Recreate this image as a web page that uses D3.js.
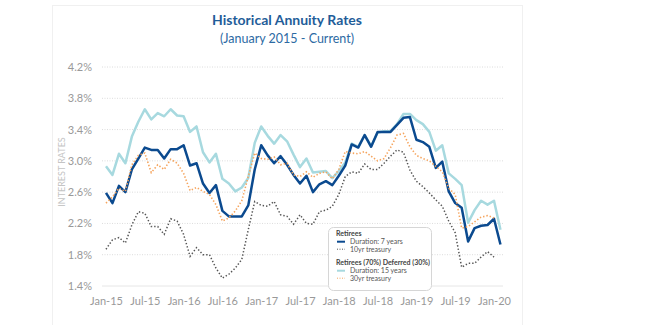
<!DOCTYPE html>
<html>
<head>
<meta charset="utf-8">
<script src="https://cdn.jsdelivr.net/npm/d3@7"></script>
<style>
  body { margin: 0; background: #fff; }
  svg { display: block; font-family: Lato, "Noto Sans", sans-serif; }
</style>
</head>
<body>
<script>
// monthly series, Jan-15 onward
var dur7 = [2.59,2.46,2.68,2.60,2.89,3.03,3.17,3.14,3.14,3.03,3.15,3.15,
            3.20,2.94,2.97,2.71,2.59,2.69,2.36,2.29,2.29,2.29,2.43,2.89,
            3.20,3.07,2.97,3.06,2.95,2.82,2.71,2.81,2.60,2.70,2.74,2.69,
            2.81,2.94,3.21,3.17,3.33,3.18,3.37,3.37,3.37,3.46,3.55,3.56,
            3.27,3.24,3.18,2.91,2.99,2.61,2.46,2.40,1.97,2.14,2.17,2.18,
            2.26,1.93];
var dur15 = [2.93,2.82,3.09,2.97,3.31,3.50,3.66,3.53,3.61,3.57,3.66,3.58,
             3.57,3.37,3.44,3.11,2.98,3.09,2.77,2.71,2.61,2.66,2.78,3.23,
             3.44,3.32,3.22,3.33,3.25,3.08,2.92,3.03,2.85,2.86,2.87,2.78,
             2.87,2.98,3.22,3.18,3.33,3.19,3.36,3.38,3.38,3.47,3.60,3.60,
             3.52,3.47,3.37,3.13,3.20,2.84,2.77,2.69,2.21,2.37,2.49,2.44,
             2.49,2.12];
var t30 = [2.46,2.54,2.65,2.61,2.95,3.07,3.10,2.85,2.95,2.89,3.02,2.97,
           2.84,2.62,2.66,2.61,2.57,2.44,2.23,2.27,2.36,2.49,2.80,3.10,
           3.03,3.02,3.05,2.95,2.97,2.82,2.80,2.86,2.79,2.84,2.86,2.77,
           2.89,3.12,3.10,3.09,3.12,3.06,3.00,3.03,3.17,3.33,3.35,3.18,
           3.07,3.03,3.00,2.93,2.86,2.65,2.57,2.14,2.16,2.22,2.28,2.30,
           2.27];
var t10 = [1.87,1.99,2.02,1.95,2.18,2.35,2.33,2.16,2.16,2.06,2.26,2.23,
           2.06,1.78,1.89,1.80,1.80,1.63,1.50,1.55,1.63,1.74,2.12,2.48,
           2.43,2.42,2.48,2.31,2.29,2.19,2.31,2.20,2.19,2.35,2.37,2.42,
           2.57,2.80,2.86,2.84,2.96,2.89,2.89,2.97,3.06,3.14,3.11,2.88,
           2.74,2.67,2.59,2.50,2.42,2.23,2.08,1.64,1.69,1.69,1.77,1.84,
           1.77];
var xLabels = ["Jan-15","Jul-15","Jan-16","Jul-16","Jan-17","Jul-17",
               "Jan-18","Jul-18","Jan-19","Jul-19","Jan-20"];
var yTicks = [1.4,1.8,2.2,2.6,3.0,3.4,3.8,4.2];

var W = 650, H = 325;
var svg = d3.select("body").append("svg").attr("width", W).attr("height", H);

// faint frame of the embedded picture
svg.append("rect").attr("x", 52.5).attr("y", 5.5).attr("width", 470).attr("height", 330)
    .attr("fill", "none").attr("stroke", "#f0f0f0");

var x = d3.scaleLinear().domain([0, 60]).range([106, 494]);
var y = d3.scaleLinear().domain([1.4, 4.2]).range([286, 67]);

// title
svg.append("text").attr("x", 287).attr("y", 25).attr("text-anchor", "middle")
    .attr("font-size", 14).attr("font-weight", "bold").attr("fill", "#1f5d99")
    .text("Historical Annuity Rates");
svg.append("text").attr("x", 287).attr("y", 43).attr("text-anchor", "middle")
    .attr("font-size", 12.5).attr("fill", "#2d6aa3")
    .text("(January 2015 - Current)");

// grid
svg.append("g").selectAll("line").data(yTicks.slice(1)).enter().append("line")
    .attr("x1", 102).attr("x2", 503)
    .attr("y1", function(d) { return y(d); }).attr("y2", function(d) { return y(d); })
    .attr("stroke", "#dcdcdc").attr("stroke-dasharray", "1,1.5");
svg.append("line").attr("x1", 102).attr("x2", 503).attr("y1", y(1.4)).attr("y2", y(1.4))
    .attr("stroke", "#e6e6e6");

// y axis labels
var yAxis = d3.axisLeft(y).tickValues(yTicks).tickSize(0).tickPadding(0)
    .tickFormat(function(d) { return d.toFixed(1) + "%"; });
var gy = svg.append("g").attr("transform", "translate(92,0)").call(yAxis);
gy.select(".domain").remove();
gy.selectAll("text").attr("font-size", 11).attr("fill", "#999").attr("font-family", "Lato, sans-serif");

svg.append("text").attr("transform", "translate(65,172) rotate(-90)")
    .attr("text-anchor", "middle").attr("font-size", 9).attr("fill", "#c4c4c4")
    .text("INTEREST RATES");

// x axis labels
var xAxis = d3.axisBottom(x).tickValues(d3.range(0, 61, 6)).tickSize(0).tickPadding(0)
    .tickFormat(function(d, i) { return xLabels[i]; });
var gx = svg.append("g").attr("transform", "translate(0,297)").call(xAxis);
gx.select(".domain").remove();
gx.selectAll("text").attr("font-size", 11).attr("fill", "#999").attr("font-family", "Lato, sans-serif");

// lines
var line = d3.line().x(function(d, i) { return x(i); }).y(function(d) { return y(d); });

svg.append("path").datum(dur15).attr("d", line).attr("fill", "none")
    .attr("stroke", "#a7d9df").attr("stroke-width", 2.5).attr("stroke-linejoin", "round");
svg.append("path").datum(dur7).attr("d", line).attr("fill", "none")
    .attr("stroke", "#0b4a8f").attr("stroke-width", 2.5).attr("stroke-linejoin", "round");
svg.append("path").datum(t30).attr("d", line).attr("fill", "none")
    .attr("stroke", "#f5a45d").attr("stroke-width", 1.6).attr("stroke-dasharray", "1.4,2");
svg.append("path").datum(t10).attr("d", line).attr("fill", "none")
    .attr("stroke", "#555").attr("stroke-width", 1.5).attr("stroke-dasharray", "1.4,2");

// legend
var lg = svg.append("g").attr("transform", "translate(328,227)");
lg.append("rect").attr("x", 0.5).attr("y", 0.5).attr("width", 103).attr("height", 63)
    .attr("rx", 5).attr("fill", "#fff").attr("stroke", "#d6d6d6");
var items = [
  {t: "Retirees", bold: true, y: 9},
  {t: "Duration: 7 years", y: 17, c: "#0b4a8f", w: 2, dash: null},
  {t: "10yr treasury", y: 24.5, c: "#555", w: 1, dash: "1,1.5"},
  {t: "Retirees (70%) Deferred (30%)", bold: true, y: 38},
  {t: "Duration: 15 years", y: 46, c: "#a7d9df", w: 2, dash: null},
  {t: "30yr treasury", y: 53.5, c: "#f5a45d", w: 1, dash: "1,1.5"}
];
items.forEach(function(it) {
  if (it.bold) {
    lg.append("text").attr("x", 8).attr("y", it.y).attr("font-size", 7)
      .attr("font-weight", "bold").attr("fill", "#444").text(it.t);
  } else {
    lg.append("line").attr("x1", 9).attr("x2", 17).attr("y1", it.y - 2.3).attr("y2", it.y - 2.3)
      .attr("stroke", it.c).attr("stroke-width", it.w).attr("stroke-dasharray", it.dash);
    lg.append("text").attr("x", 22).attr("y", it.y).attr("font-size", 7)
      .attr("fill", "#555").text(it.t);
  }
});
</script>
</body>
</html>
